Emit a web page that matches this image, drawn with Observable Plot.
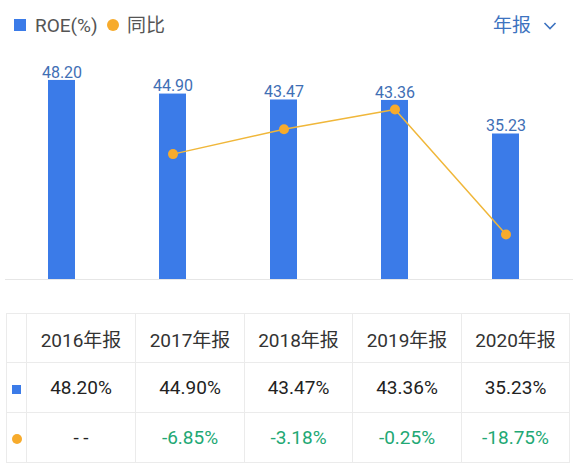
<!DOCTYPE html>
<html>
<head>
<meta charset="utf-8">
<script src="https://cdn.jsdelivr.net/npm/d3@7"></script>
<script src="https://cdn.jsdelivr.net/npm/@observablehq/plot@0.6"></script>
<style>
  html, body { margin: 0; padding: 0; background: #fff; }
  body { width: 580px; height: 472px; overflow: hidden; font-family: Roboto, "Noto Sans CJK SC", sans-serif; }
  #legend { position: relative; height: 50px; }
  #legend .sq { position: absolute; left: 14px; top: 19px; width: 12px; height: 12px; background: #3b7be8; }
  #legend .dt { position: absolute; left: 107px; top: 19px; width: 12px; height: 12px; border-radius: 50%; background: #f7ab2c; }
  #legend .t { position: absolute; top: 13px; font-size: 19px; line-height: 26px; color: #555; }
  #legend .period { position: absolute; left: 493px; top: 13px; font-size: 19px; line-height: 26px; color: #3d73c0; }
  #legend svg.chev { position: absolute; left: 543px; top: 21px; }
  #chart { position: relative; height: 240px; }
  #chart svg { position: absolute; left: 0; top: 0; }
  table { border-collapse: collapse; margin-left: 6px; margin-top: 23px; table-layout: fixed; }
  td { border: 1px solid #ebebeb; text-align: center; padding: 0; font-size: 19px; color: #222; }
  tr.h td { height: 48px; color: #333; }
  tr.r td { height: 49px; }
  td.g { color: #22a874; }
  .msq { display: inline-block; width: 9px; height: 9px; background: #3b7be8; }
  .mdt { display: inline-block; width: 10px; height: 10px; border-radius: 50%; background: #f7ab2c; }
</style>
</head>
<body>
<div id="legend">
  <div class="sq"></div>
  <div class="t" style="left:35px">ROE(%)</div>
  <div class="dt"></div>
  <div class="t" style="left:127px">同比</div>
  <div class="period">年报</div>
  <svg class="chev" width="14" height="10" viewBox="0 0 14 10"><path d="M1.5 2 L7 7.5 L12.5 2" fill="none" stroke="#3d73c0" stroke-width="1.6"/></svg>
</div>
<div id="chart"></div>
<div id="tbl"></div>
<script>
const years = ["2016年报", "2017年报", "2018年报", "2019年报", "2020年报"];
const roe = [48.20, 44.90, 43.47, 43.36, 35.23];
const yoy = [null, -6.85, -3.18, -0.25, -18.75];
const roeLabels = ["48.20%", "44.90%", "43.47%", "43.36%", "35.23%"];
const yoyLabels = ["- -", "-6.85%", "-3.18%", "-0.25%", "-18.75%"];

const bars = years.map((y, i) => ({year: y, roe: roe[i]}));
const pts = years.map((y, i) => ({year: y, yoy: yoy[i]})).filter(d => d.yoy != null);

const common = {
  width: 580, height: 240,
  marginTop: 22.5, marginBottom: 11, marginLeft: 5, marginRight: 7,
  style: {background: "transparent", overflow: "visible"}
};
const xScale = {type: "band", domain: years, paddingInner: 0.757, paddingOuter: 0.437, align: 0.443, axis: null};

const p1 = Plot.plot({
  ...common,
  x: xScale,
  y: {domain: [0, 50], axis: null},
  marks: [
    Plot.ruleY([0], {stroke: "#e6e6e6"}),
    Plot.barY(bars, {x: "year", y: "roe", fill: "#3b7be8"}),
    Plot.text(bars, {x: "year", y: "roe", text: d => d.roe.toFixed(2), dy: -8, fill: "#3f6fb5", fontSize: 16, fontFamily: "Roboto"})
  ]
});
const p2 = Plot.plot({
  ...common,
  x: xScale,
  y: {domain: [-25.4, 5.15], axis: null},
  marks: [
    Plot.line(pts, {x: "year", y: "yoy", stroke: "#f0b73a", strokeWidth: 1.5}),
    Plot.dot(pts, {x: "year", y: "yoy", r: 5, fill: "#f7ab2c", stroke: "none"})
  ]
});
const chart = document.getElementById("chart");
chart.appendChild(p1);
chart.appendChild(p2);

// table
const widths = [20, 109, 109, 108, 109, 108];
let html = "<table><colgroup>" + widths.map(w => `<col style="width:${w}px">`).join("") + "</colgroup>";
html += '<tr class="h"><td></td>' + years.map(y => `<td>${y}</td>`).join("") + "</tr>";
html += '<tr class="r"><td><span class="msq"></span></td>' + roeLabels.map(v => `<td>${v}</td>`).join("") + "</tr>";
html += '<tr class="r"><td><span class="mdt"></span></td>' + yoyLabels.map((v, i) => `<td class="${yoy[i] == null ? "" : "g"}">${v}</td>`).join("") + "</tr>";
html += "</table>";
document.getElementById("tbl").innerHTML = html;
</script>
</body>
</html>
